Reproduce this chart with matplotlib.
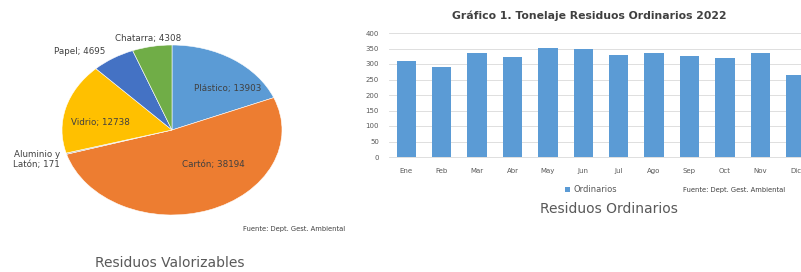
import matplotlib
matplotlib.use('Agg')
import matplotlib.pyplot as plt

# --- Datos: gráfico de torta (Residuos Valorizables) ---
pie_labels = ['Plástico', 'Cartón', 'Aluminio y\nLatón', 'Vidrio', 'Papel', 'Chatarra']
pie_values = [13903, 38194, 171, 12738, 4695, 4308]
pie_colors = ['#5B9BD5', '#ED7D31', '#A5A5A5', '#FFC000', '#4472C4', '#70AD47']
# posición de cada etiqueta (coordenadas del eje de la torta)
pie_label_pos = [(0.51, 0.49), (0.38, -0.41), (-1.23, -0.35),
                 (-0.65, 0.09), (-0.84, 0.92), (-0.22, 1.08)]

# --- Datos: gráfico de barras (Residuos Ordinarios) ---
months = ['Ene', 'Feb', 'Mar', 'Abr', 'May', 'Jun',
          'Jul', 'Ago', 'Sep', 'Oct', 'Nov', 'Dic']
ordinarios = [309, 291, 334, 324, 352, 350, 330, 337, 327, 320, 337, 266]
y_ticks = list(range(0, 401, 50))

W, H = 801, 272
fig = plt.figure(figsize=(W / 100, H / 100), dpi=100)
fig.patch.set_facecolor('white')


def px_box(x0, y0, x1, y1):
    """caja en píxeles (origen arriba-izquierda) -> fracción de figura"""
    return [x0 / W, 1 - y1 / H, (x1 - x0) / W, (y1 - y0) / H]


# ---------- torta ----------
ax_p = fig.add_axes(px_box(62, 45, 282, 215))
wedges, _ = ax_p.pie(pie_values, colors=pie_colors, startangle=90, counterclock=False,
                     wedgeprops=dict(edgecolor='white', linewidth=0.4))
ax_p.set_aspect('auto')
ax_p.set_xlim(-1, 1)
ax_p.set_ylim(-1, 1)
for lab, val, (lx, ly) in zip(pie_labels, pie_values, pie_label_pos):
    ax_p.text(lx, ly, f'{lab}; {val}', ha='center', va='center',
              fontsize=6.3, color='#404040', clip_on=False)

fig.text(294 / W, 1 - 229 / H, 'Fuente: Dept. Gest. Ambiental',
         ha='center', va='center', fontsize=4.9, color='#404040')
fig.text(170 / W, 1 - 263 / H, 'Residuos Valorizables',
         ha='center', va='center', fontsize=10, color='#595959')

# ---------- barras ----------
ax_b = fig.add_axes(px_box(388.6, 33, 813.4, 157))
x = range(len(months))
bars = ax_b.bar(x, ordinarios, width=0.55, color='#5B9BD5', label='Ordinarios', zorder=3)
ax_b.set_xlim(-0.5, len(months) - 0.5)
ax_b.set_ylim(0, 400)
ax_b.set_yticks(y_ticks)
ax_b.set_xticks(list(x))
ax_b.set_xticklabels(months)
ax_b.tick_params(axis='both', length=0, labelsize=5, labelcolor='#595959')
ax_b.tick_params(axis='y', pad=7)
ax_b.tick_params(axis='x', pad=8)
ax_b.grid(axis='y', color='#D9D9D9', linewidth=0.6, zorder=0)
for side in ['top', 'right', 'left']:
    ax_b.spines[side].set_visible(False)
ax_b.spines['bottom'].set_color('#D9D9D9')
ax_b.spines['bottom'].set_linewidth(0.6)

fig.text(589 / W, 1 - 16 / H, 'Gráfico 1. Tonelaje Residuos Ordinarios 2022',
         ha='center', va='center', fontsize=7.8, fontweight='bold', color='#404040')
ax_b.legend(handles=[bars], loc='center', bbox_to_anchor=(591 / W, 1 - 190 / H),
            bbox_transform=fig.transFigure, frameon=False, fontsize=6,
            handlelength=0.6, handleheight=0.6, handletextpad=0.4,
            labelcolor='#595959')
fig.text(734 / W, 1 - 190 / H, 'Fuente: Dept. Gest. Ambiental',
         ha='center', va='center', fontsize=4.9, color='#404040')
fig.text(609 / W, 1 - 209 / H, 'Residuos Ordinarios',
         ha='center', va='center', fontsize=10, color='#595959')

fig.savefig('out.png', dpi=100, facecolor='white')
